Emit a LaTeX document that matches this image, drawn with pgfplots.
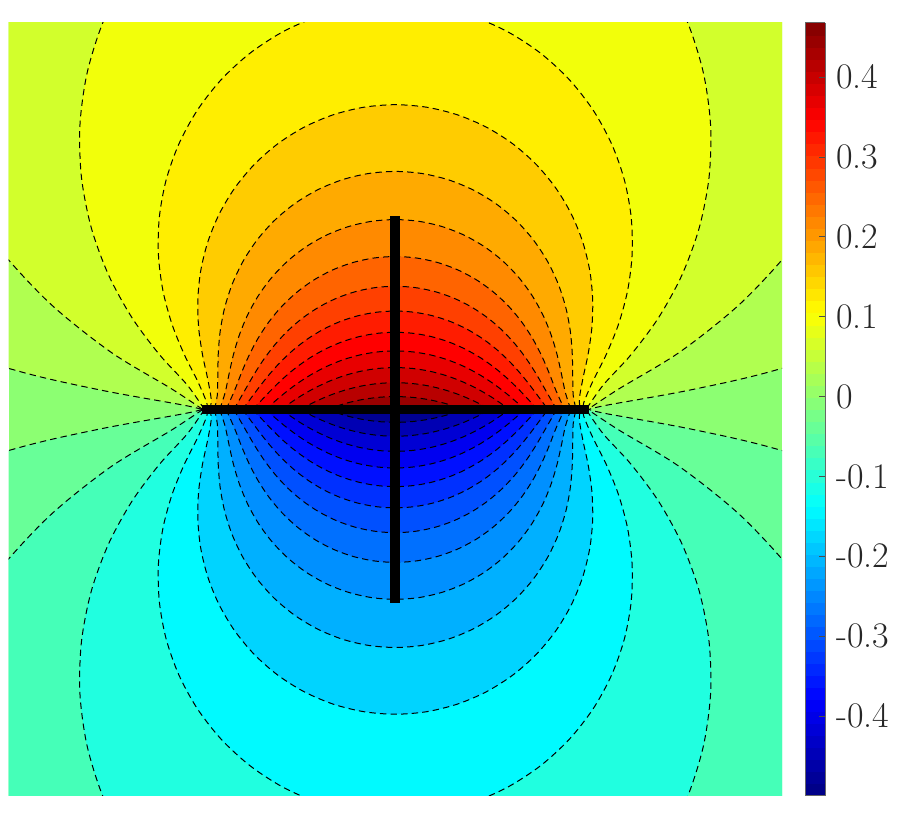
\documentclass[border=0pt]{standalone}
\usepackage{pgfplots}
\usepackage{pgfplotstable}
\pgfplotsset{compat=1.18}
% contour tables: x y of each level line, from the left crack point over the top to the right one
\pgfplotstableread[row sep=\\]{x y\\ -.9995 0\\ -1.0962 .0226\\ -1.5302 .1017\\ -1.98 .2071\\ -2.7422 .4512\\ -5.026 1.797\\ -7.77 7.73\\ 0 15.48\\ 7.77 7.73\\ 5.026 1.797\\ 2.7422 .4512\\ 1.98 .2071\\ 1.5302 .1017\\ 1.0962 .0226\\ .9995 0\\}\tA
\pgfplotstableread[row sep=\\]{x y\\ -.9953 0\\ -1.158 .1074\\ -1.4723 .2977\\ -1.7935 .556\\ -2.0827 .8744\\ -2.3211 1.2433\\ -2.6018 2.086\\ -2.585 2.98\\ -2.265 3.83\\ 0 5.118\\ 2.265 3.83\\ 2.585 2.98\\ 2.6018 2.086\\ 2.3211 1.2433\\ 2.0827 .8744\\ 1.7935 .556\\ 1.4723 .2977\\ 1.158 .1074\\ .9953 0\\}\tB
\pgfplotstableread[row sep=\\]{x y\\ -.9869 0\\ -1.076 .127\\ -1.2179 .282\\ -1.3603 .473\\ -1.482 .6944\\ -1.5717 .9392\\ -1.6226 1.2002\\ -1.6307 1.4694\\ -1.5941 1.7385\\ -1.513 1.9995\\ -1.3889 2.2444\\ -1.0257 2.6567\\ -.5444 2.9259\\ 0 3.0194\\ .5444 2.9259\\ 1.0257 2.6567\\ 1.3889 2.2444\\ 1.513 1.9995\\ 1.5941 1.7385\\ 1.6307 1.4694\\ 1.6226 1.2002\\ 1.5717 .9392\\ 1.482 .6944\\ 1.3603 .473\\ 1.2179 .282\\ 1.076 .127\\ .9869 0\\}\tC
\pgfplotstableread[row sep=\\]{x y\\ -.9742 0\\ -.9749 .0354\\ -1.0219 .1461\\ -1.0903 .2826\\ -1.1544 .4407\\ -1.2016 .6156\\ -1.2249 .802\\ -1.2201 .9942\\ -1.1851 1.1865\\ -1.1194 1.3729\\ -1.024 1.5478\\ -.9008 1.7059\\ -.7527 1.8424\\ -.5838 1.953\\ -.3986 2.0346\\ -.2021 2.0846\\ 0 2.1014\\ .2021 2.0846\\ .3986 2.0346\\ .5838 1.953\\ .7527 1.8424\\ .9008 1.7059\\ 1.024 1.5478\\ 1.1194 1.3729\\ 1.1851 1.1865\\ 1.2201 .9942\\ 1.2249 .802\\ 1.2016 .6156\\ 1.1544 .4407\\ 1.0903 .2826\\ 1.0219 .1461\\ .9749 .0354\\ .9742 0\\}\tD
\pgfplotstableread[row sep=\\]{x y\\ -.9569 0\\ -.9523 .0563\\ -.9709 .1624\\ -.9972 .2854\\ -1.0165 .4214\\ -1.021 .5664\\ -1.0063 .716\\ -.9698 .8655\\ -.9108 1.0105\\ -.8296 1.1465\\ -.7273 1.2695\\ -.6063 1.3756\\ -.4695 1.4617\\ -.3201 1.5251\\ -.1622 1.564\\ 0 1.5771\\ .1622 1.564\\ .3201 1.5251\\ .4695 1.4617\\ .6063 1.3756\\ .7273 1.2695\\ .8296 1.1465\\ .9108 1.0105\\ .9698 .8655\\ 1.0063 .716\\ 1.021 .5664\\ 1.0165 .4214\\ .9972 .2854\\ .9709 .1624\\ .9523 .0563\\ .9569 0\\}\tE
\pgfplotstableread[row sep=\\]{x y\\ -.9349 0\\ -.9202 .0743\\ -.9175 .1749\\ -.9154 .2862\\ -.9053 .4048\\ -.882 .5271\\ -.8427 .6495\\ -.7863 .7681\\ -.7126 .8794\\ -.6225 .98\\ -.5175 1.0668\\ -.3998 1.1373\\ -.2723 1.1892\\ -.1379 1.221\\ 0 1.2317\\ .1379 1.221\\ .2723 1.1892\\ .3998 1.1373\\ .5175 1.0668\\ .6225 .98\\ .7126 .8794\\ .7863 .7681\\ .8427 .6495\\ .882 .5271\\ .9053 .4048\\ .9154 .2862\\ .9175 .1749\\ .9202 .0743\\ .9349 0\\}\tF
\pgfplotstableread[row sep=\\]{x y\\ -.9078 0\\ -.8795 .0884\\ -.8597 .1826\\ -.837 .283\\ -.8058 .3865\\ -.763 .49\\ -.707 .5904\\ -.6373 .6846\\ -.5545 .7697\\ -.4595 .8432\\ -.3543 .9028\\ -.2409 .9467\\ -.1219 .9736\\ 0 .9826\\ .1219 .9736\\ .2409 .9467\\ .3543 .9028\\ .4595 .8432\\ .5545 .7697\\ .6373 .6846\\ .707 .5904\\ .763 .49\\ .8058 .3865\\ .837 .283\\ .8597 .1826\\ .8795 .0884\\ .9078 0\\}\tG
\pgfplotstableread[row sep=\\]{x y\\ -.8751 0\\ -.831 .098\\ -.7971 .185\\ -.7586 .2747\\ -.7118 .3644\\ -.6549 .4514\\ -.5871 .5331\\ -.5086 .6068\\ -.4202 .6705\\ -.3232 .7222\\ -.2194 .7602\\ -.1109 .7835\\ 0 .7914\\ .1109 .7835\\ .2194 .7602\\ .3232 .7222\\ .4202 .6705\\ .5086 .6068\\ .5871 .5331\\ .6549 .4514\\ .7118 .3644\\ .7586 .2747\\ .7971 .185\\ .831 .098\\ .8751 0\\}\tH
\pgfplotstableread[row sep=\\]{x y\\ -.8362 0\\ -.82 .0258\\ -.7757 .1025\\ -.7301 .1817\\ -.679 .2608\\ -.6204 .3376\\ -.5531 .4096\\ -.4771 .4747\\ -.3928 .5309\\ -.3014 .5765\\ -.2043 .6101\\ -.1032 .6306\\ 0 .6376\\ .1032 .6306\\ .2043 .6101\\ .3014 .5765\\ .3928 .5309\\ .4771 .4747\\ .5531 .4096\\ .6204 .3376\\ .679 .2608\\ .7301 .1817\\ .7757 .1025\\ .82 .0258\\ .8362 0\\}\tI
\pgfplotstableread[row sep=\\]{x y\\ -.7902 0\\ -.7669 .0306\\ -.7144 .1014\\ -.6589 .1723\\ -.5979 .241\\ -.5302 .3054\\ -.4554 .3636\\ -.3737 .4139\\ -.2861 .4547\\ -.1935 .4847\\ -.0976 .5031\\ 0 .5093\\ .0976 .5031\\ .1935 .4847\\ .2861 .4547\\ .3737 .4139\\ .4554 .3636\\ .5302 .3054\\ .5979 .241\\ .6589 .1723\\ .7144 .1014\\ .7669 .0306\\ .7902 0\\}\tJ
\pgfplotstableread[row sep=\\]{x y\\ -.7356 0\\ -.7078 .0303\\ -.6477 .0944\\ -.584 .1566\\ -.5152 .2149\\ -.4406 .2676\\ -.3605 .313\\ -.2753 .3499\\ -.186 .3771\\ -.0937 .3938\\ 0 .3994\\ .0937 .3938\\ .186 .3771\\ .2753 .3499\\ .3605 .313\\ .4406 .2676\\ .5152 .2149\\ .584 .1566\\ .6477 .0944\\ .7078 .0303\\ .7356 0\\}\tK
\pgfplotstableread[row sep=\\]{x y\\ -.6705 0\\ -.6431 .0245\\ -.5764 .0812\\ -.506 .1345\\ -.4311 .1826\\ -.3516 .2241\\ -.2679 .2578\\ -.1807 .2826\\ -.091 .2978\\ 0 .3029\\ .091 .2978\\ .1807 .2826\\ .2679 .2578\\ .3516 .2241\\ .4311 .1826\\ .506 .1345\\ .5764 .0812\\ .6431 .0245\\ .6705 0\\}\tL
\pgfplotstableread[row sep=\\]{x y\\ -.5913 0\\ -.5013 .0618\\ -.4255 .106\\ -.346 .1442\\ -.263 .1752\\ -.1771 .1981\\ -.0891 .2121\\ 0 .2168\\ .0891 .2121\\ .1771 .1981\\ .263 .1752\\ .346 .1442\\ .4255 .106\\ .5013 .0618\\ .5913 0\\}\tM
\pgfplotstableread[row sep=\\]{x y\\ -.4913 0\\ -.423 .0361\\ -.343 .0714\\ -.2602 .1001\\ -.175 .1213\\ -.0879 .1342\\ 0 .1386\\ .0879 .1342\\ .175 .1213\\ .2602 .1001\\ .343 .0714\\ .423 .0361\\ .4913 0\\}\tN
\pgfplotstableread[row sep=\\]{x y\\ -.3534 0\\ -.259 .0309\\ -.1739 .0506\\ -.0873 .0627\\ 0 .0667\\ .0873 .0627\\ .1739 .0506\\ .259 .0309\\ .3534 0\\}\tO
% colours of the bands
\definecolor{c0}{HTML}{000090}\definecolor{c1}{HTML}{0000B3}\definecolor{c2}{HTML}{0000D4}
\definecolor{c3}{HTML}{0000F0}\definecolor{c4}{HTML}{0010FF}\definecolor{c5}{HTML}{0030FF}
\definecolor{c6}{HTML}{0050FF}\definecolor{c7}{HTML}{0070FF}\definecolor{c8}{HTML}{0090FF}
\definecolor{c9}{HTML}{00B0FF}\definecolor{c10}{HTML}{00D4FF}\definecolor{c11}{HTML}{00FAFF}
\definecolor{c12}{HTML}{20FFE0}\definecolor{c13}{HTML}{45FFB8}\definecolor{c14}{HTML}{68FF98}
\definecolor{c15}{HTML}{8CFF72}\definecolor{c16}{HTML}{B0FF50}\definecolor{c17}{HTML}{D2FF2C}
\definecolor{c18}{HTML}{F2FF0A}\definecolor{c19}{HTML}{FFEE00}\definecolor{c20}{HTML}{FFCC00}
\definecolor{c21}{HTML}{FFAA00}\definecolor{c22}{HTML}{FF8A00}\definecolor{c23}{HTML}{FF6400}
\definecolor{c24}{HTML}{FF4000}\definecolor{c25}{HTML}{FF1C00}\definecolor{c26}{HTML}{FF0000}
\definecolor{c27}{HTML}{E80000}\definecolor{c28}{HTML}{D00000}\definecolor{c29}{HTML}{B80000}
\definecolor{c30}{HTML}{9A0000}
\pgfplotsset{cont/.style={smooth,line width=.5pt,draw=black,dash pattern=on 3.2pt off 2.1pt}}
\newcommand\up[2]{\addplot[cont,fill=#2] table {#1};}
\newcommand\dn[2]{\addplot[cont,fill=#2] table[y expr=-\thisrow{y}] {#1};}
\begin{document}
\begin{tikzpicture}
\path[use as bounding box] (0,0) rectangle (453.5pt,407pt);
\begin{axis}[
  at={(4.25pt,9pt)},anchor=south west,
  scale only axis,width=386.75pt,height=386.5pt,
  xmin=-2,xmax=2,ymin=-2,ymax=2,
  hide axis,
  colormap/jet,
  point meta min=-0.5,point meta max=0.4677,
  colorbar sampled,
  colorbar style={
    samples=65,
    at={(parent axis.north east)},anchor=north west,xshift=3pt,
    width=10pt,height=386.5pt,
    ytick={-0.4,-0.3,-0.2,-0.1,0,0.1,0.2,0.3,0.4},
    yticklabels={-0.4,-0.3,-0.2,-0.1,0,0.1,0.2,0.3,0.4},
    ytick pos=right,
    tick align=inside,
    major tick length=3pt,
    tick style={black!70,line width=.4pt},
    axis line style={black!60,line width=.5pt},
    yticklabel style={font=\fontsize{18}{20}\selectfont,text=black!85,inner sep=0pt,anchor=west,xshift=5.5pt},
  },
]
\addplot[fill=c15,draw=none] coordinates {(-2,-2) (2,-2) (2,2) (-2,2)};
\up{\tA}{c16}\up{\tB}{c17}\up{\tC}{c18}\up{\tD}{c19}\up{\tE}{c20}
\up{\tF}{c21}\up{\tG}{c22}\up{\tH}{c23}\up{\tI}{c24}\up{\tJ}{c25}
\up{\tK}{c26}\up{\tL}{c27}\up{\tM}{c28}\up{\tN}{c29}\up{\tO}{c30}
\dn{\tA}{c14}\dn{\tB}{c13}\dn{\tC}{c12}\dn{\tD}{c11}\dn{\tE}{c10}
\dn{\tF}{c9}\dn{\tG}{c8}\dn{\tH}{c7}\dn{\tI}{c6}\dn{\tJ}{c5}
\dn{\tK}{c4}\dn{\tL}{c3}\dn{\tM}{c2}\dn{\tN}{c1}\dn{\tO}{c0}
\addplot[black,line width=4.9pt] coordinates {(0,-1) (0,1)};
\addplot[black,line width=4.3pt] coordinates {(-1,0) (1,0)};
\end{axis}
\end{tikzpicture}
\end{document}
